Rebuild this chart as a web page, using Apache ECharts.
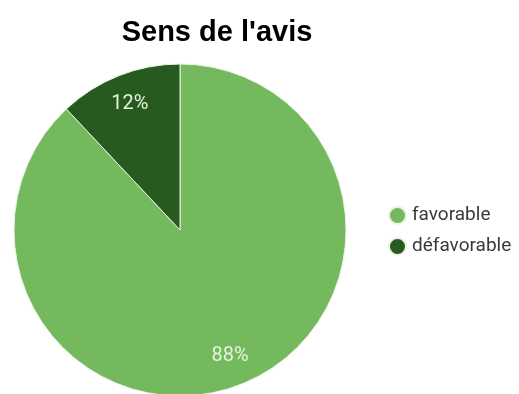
<!DOCTYPE html>
<html><head><meta charset="utf-8">
<script src="https://cdn.jsdelivr.net/npm/echarts@6/dist/echarts.min.js"></script>
<style>html,body{margin:0;padding:0;background:#fff}#c{width:519px;height:394px}</style>
</head><body><div id="c"></div>
<script>
const categories = ['favorable', 'défavorable'];
const values = [88, 12];
const colors = ['#74b95d', '#275a1f'];

const data = categories.map((n, i) => ({ name: n, value: values[i], itemStyle: { color: colors[i] } }));
const chart = echarts.init(document.getElementById('c'));
chart.setOption({
  animation: false,
  title: {
    text: "Sens de l'avis", left: 212, top: 13, textAlign: 'center',
    textStyle: { fontFamily: 'Liberation Sans, Arial', fontWeight: 'bold', fontSize: 29, color: '#000' }
  },
  legend: {
    orient: 'vertical', left: 388, top: 206, icon: 'circle', itemWidth: 17, itemHeight: 17, itemGap: 12, padding: 0,
    data: categories,
    textStyle: { fontFamily: 'Roboto', fontSize: 19, color: '#3a3a3a', padding: [0, 0, 0, 1] }
  },
  series: [
    {
      type: 'pie', center: [180, 230], radius: [0, 166], startAngle: 90, clockwise: true,
      data: data, label: { show: false }, labelLine: { show: false },
      itemStyle: { borderColor: '#e8f3e2', borderWidth: 1 }, silent: true
    },
    {
      type: 'pie', center: [180, 230], radius: [100, 166], startAngle: 90, clockwise: true,
      data: data.map(d => ({ name: d.name, value: d.value, itemStyle: { color: 'rgba(0,0,0,0)' } })),
      label: { show: true, position: 'inside', formatter: '{c}%', color: '#e6f2de', fontFamily: 'Roboto', fontSize: 20 },
      labelLine: { show: false }, silent: true
    }
  ]
});
</script></body></html>
